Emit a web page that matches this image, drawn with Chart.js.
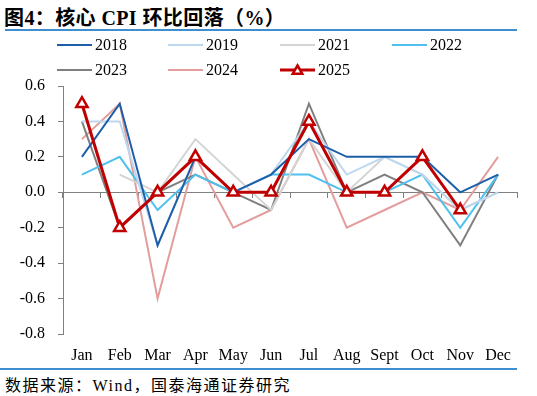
<!DOCTYPE html>
<html>
<head>
<meta charset="utf-8">
<script src="https://cdn.jsdelivr.net/npm/chart.js@4.4.1/dist/chart.umd.min.js"></script>
<style>
    body { margin: 0; width: 537px; height: 396px; background: #fff; position: relative; overflow: hidden;
           font-family: "Liberation Serif", "Noto Sans CJK SC", serif; }
    #title { position: absolute; left: 4px; top: 2px; font-size: 20px; font-weight: bold; letter-spacing: 0.4px;
             white-space: nowrap; color: #000; }
    #title-rule { position: absolute; left: 5px; top: 29px; width: 512px; height: 2px; background: #3E8ED0; }
    #wrap { position: absolute; left: 0; top: 33px; width: 530px; height: 335px; }
    #src-rule { position: absolute; left: 0; top: 368px; width: 517px; height: 2px; background: #3E8ED0; }
    #source { position: absolute; left: 5px; top: 372px; font-size: 16px; letter-spacing: 1.5px; white-space: nowrap;
              color: #000; font-family: "Liberation Serif", "Noto Sans CJK SC", serif; }
</style>
</head>
<body>
<div id="title">图4：核心 CPI 环比回落（%）</div>
<div id="title-rule"></div>
<div id="wrap"><canvas id="cpiChart"></canvas></div>
<div id="src-rule"></div>
<div id="source">数据来源：Wind，国泰海通证券研究</div>

<script>
// ── Data ─────────────────────────────────────────────────────────────────────

const months = ['Jan', 'Feb', 'Mar', 'Apr', 'May', 'Jun', 'Jul', 'Aug', 'Sept', 'Oct', 'Nov', 'Dec'];

const core2018 = [0.2, 0.5, -0.3, 0.2, 0.0, 0.1, 0.3, 0.2, 0.2, 0.2, 0.0, 0.1];
const core2019 = [0.4, 0.4, -0.3, 0.2, 0.0, 0.1, 0.4, 0.1, 0.2, 0.1, -0.1, 0.0];
const core2021 = [null, 0.1, 0.0, 0.3, 0.1, -0.1, 0.3, 0.0, 0.2, 0.1, -0.1, 0.0];
const core2022 = [0.1, 0.2, -0.1, 0.1, 0.0, 0.1, 0.1, 0.0, 0.0, 0.1, -0.2, 0.1];
const core2023 = [0.4, -0.2, 0.0, 0.1, 0.0, -0.1, 0.5, 0.0, 0.1, 0.0, -0.3, 0.1];
const core2024 = [0.3, 0.5, -0.6, 0.2, -0.2, -0.1, 0.3, -0.2, -0.1, 0.0, -0.1, 0.2];
const core2025 = [0.5, -0.2, 0.0, 0.2, 0.0, 0.0, 0.4, 0.0, 0.0, 0.2, -0.1, null];

const yMin = -0.8;
const yMax = 0.6;
const yStep = 0.2;

// ── Style ────────────────────────────────────────────────────────────────────

const AXIS_GREY = '#808080';
const TICK_FONT = { family: "'Liberation Serif', serif", size: 16 };
const LEGEND_X = [57, 168, 280, 392];
const LEGEND_Y = [12, 37];

function thinLine(label, data, color) {
    return {
        label, data,
        borderColor: color,
        borderWidth: 2,
        pointRadius: 0,
        tension: 0,
        order: 1
    };
}

// ── Legend laid out in fixed columns ─────────────────────────────────────────

const gridLegend = {
    id: 'gridLegend',
    afterDraw(chart) {
        const ctx = chart.ctx;
        ctx.save();
        ctx.font = '16px "Liberation Serif", serif';
        ctx.textBaseline = 'middle';
        chart.data.datasets.forEach((ds, i) => {
            const x = LEGEND_X[i % 4];
            const y = LEGEND_Y[Math.floor(i / 4)];
            ctx.strokeStyle = ds.borderColor;
            ctx.lineWidth = ds.borderWidth;
            ctx.beginPath();
            ctx.moveTo(x, y);
            ctx.lineTo(x + 35, y);
            ctx.stroke();
            if (ds.pointStyle === 'triangle') {
                ctx.fillStyle = ds.pointBackgroundColor;
                ctx.strokeStyle = ds.pointBorderColor;
                ctx.lineWidth = ds.pointBorderWidth;
                Chart.helpers.drawPoint(ctx, {
                    pointStyle: 'triangle', radius: 5.5, rotation: 0, borderWidth: ds.pointBorderWidth
                }, x + 17.5, y + 1);
            }
            ctx.fillStyle = '#000';
            ctx.fillText(ds.label, x + 38, y + 1);
        });
        ctx.restore();
    }
};

// ── Chart ────────────────────────────────────────────────────────────────────

new Chart(document.getElementById('cpiChart'), {
    type: 'line',
    data: {
        labels: months,
        datasets: [
            thinLine('2018', core2018, '#1E5EA8'),
            thinLine('2019', core2019, '#BDD7EE'),
            thinLine('2021', core2021, '#D4D4D4'),
            thinLine('2022', core2022, '#4EC1EE'),
            thinLine('2023', core2023, '#7F7F7F'),
            thinLine('2024', core2024, '#E39D9D'),
            {
                label: '2025',
                data: core2025,
                borderColor: '#C00000',
                borderWidth: 3,
                pointStyle: 'triangle',
                pointRadius: 6.5,
                pointBackgroundColor: '#FFFFFF',
                pointBorderColor: '#C00000',
                pointBorderWidth: 2.5,
                tension: 0,
                order: 0
            }
        ]
    },
    options: {
        responsive: true,
        maintainAspectRatio: false,
        devicePixelRatio: 1,
        animation: false,
        layout: { padding: { top: 53, left: 20, right: 13, bottom: 0 } },
        plugins: {
            legend: { display: false },
            tooltip: { enabled: false }
        },
        scales: {
            x: {
                type: 'category',
                offset: true,
                grid: { display: false, drawTicks: false },
                border: { display: false },
                ticks: { color: '#000', font: TICK_FONT, padding: 12, maxRotation: 0, autoSkip: false },
                afterFit: s => { s.height = 34; }
            },
            // zero line with its little downward ticks between months
            x2: {
                type: 'category',
                position: { y: 0 },
                offset: true,
                grid: { offset: true, drawOnChartArea: false, drawTicks: true, tickLength: 5, color: AXIS_GREY },
                border: { color: AXIS_GREY, width: 1 },
                ticks: { display: false },
                afterFit: s => { s.height = 0; }
            },
            y: {
                min: yMin,
                max: yMax,
                grid: { drawOnChartArea: false, drawTicks: true, tickLength: 5, color: AXIS_GREY },
                border: { color: AXIS_GREY, width: 1 },
                ticks: {
                    stepSize: yStep,
                    color: '#000',
                    font: TICK_FONT,
                    padding: 13,
                    callback: v => (Math.abs(v) < 1e-9 ? 0 : v).toFixed(1)
                },
                afterFit: s => { s.width = 43; }
            }
        }
    },
    plugins: [gridLegend]
});
</script>
</body>
</html>
